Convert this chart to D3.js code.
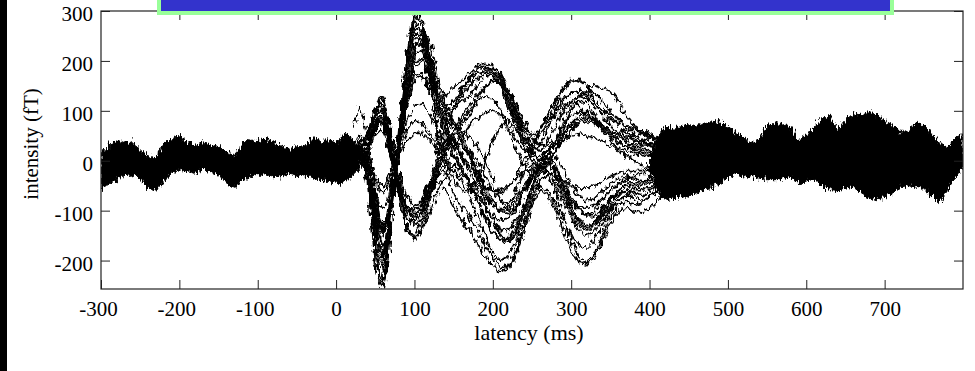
<!DOCTYPE html>
<html>
<head>
<meta charset="utf-8">
<script src="https://cdn.jsdelivr.net/npm/d3@7"></script>
<style>
    body { margin: 0; background: #fff; }
    svg text { font-family: "Liberation Serif", "Times New Roman", serif; fill: #000; }
</style>
</head>
<body>
<svg id="chart" width="975" height="371"></svg>
<script>
// dense baseline band before the evoked response (upper / lower edge, fT)
let preLatency = [-300,-290,-280,-270,-260,-250,-240,-230,-220,-210,-200,-190,-180,-170,-160,-150,-140,-130,-120,-110,-100,-90,-80,-70,-60,-50,-40,-30,-20,-10,0,10,20,30];
let preUpper = [15,30,40,35,38,22,10,6,35,42,50,38,30,38,32,28,18,8,35,42,40,44,38,30,22,28,30,48,40,42,35,55,45,25];
let preLower = [-58,-45,-38,-30,-28,-35,-55,-60,-40,-25,-18,-22,-25,-18,-22,-28,-45,-55,-40,-32,-30,-28,-32,-30,-25,-28,-30,-35,-38,-42,-45,-45,-30,-15];

// dense band after the evoked response
let postLatency = [400,410,420,430,440,450,460,470,480,490,500,510,520,530,540,550,560,570,580,590,600,610,620,630,640,650,660,670,680,690,700,710,720,730,740,750,760,770,780,790,800];
let postUpper = [10,45,68,65,68,72,70,75,78,82,65,55,48,35,45,70,75,72,68,40,50,68,85,92,62,80,95,90,98,92,80,72,55,62,75,72,55,35,28,45,55];
let postLower = [-20,-60,-78,-75,-72,-70,-65,-58,-52,-45,-35,-25,-30,-32,-35,-38,-38,-35,-32,-45,-40,-38,-50,-58,-60,-55,-52,-62,-75,-78,-72,-65,-52,-50,-52,-55,-70,-85,-58,-35,-15];

// single channels through the evoked part
let latency = [20,30,40,45,50,55,60,65,70,80,90,100,110,120,130,140,150,160,170,180,190,200,210,220,230,240,250,260,270,280,290,300,310,320,330,340,350,360,370,380,390,400,410,420];
let trace01 = [10,30,-20,-90,-170,-235,-250,-200,-120,40,200,290,275,200,130,100,110,140,165,185,190,180,150,110,70,40,20,30,60,100,140,160,165,150,120,100,95,85,70,55,40,45,50,40];
let trace02 = [0,15,-30,-100,-180,-225,-240,-190,-110,30,170,250,240,170,40,-20,-70,-90,-110,-140,-170,-195,-215,-210,-180,-130,-80,-40,-30,-60,-110,-160,-195,-205,-185,-150,-110,-90,-80,-90,-85,-70,-60,-50];
let trace03 = [20,40,10,-50,-120,-170,-185,-150,-80,50,160,230,235,180,120,80,60,70,90,120,145,160,150,120,80,50,30,20,40,70,100,120,130,125,110,90,70,60,50,45,35,30,35,30];
let trace04 = [-10,0,-20,-60,-110,-150,-170,-155,-110,0,120,220,265,240,170,110,70,40,10,-30,-80,-120,-150,-160,-140,-100,-60,-20,0,-20,-60,-100,-130,-140,-130,-110,-90,-70,-60,-55,-50,-45,-40,-35];
let trace05 = [30,50,30,-10,-70,-120,-140,-120,-60,40,140,200,205,160,110,90,100,120,130,150,170,185,175,140,100,60,40,50,70,90,110,115,110,95,80,70,60,50,45,50,55,50,45,40];
let trace06 = [10,20,40,70,100,125,120,90,40,-60,-130,-155,-140,-100,-60,-30,-20,-40,-70,-110,-150,-185,-200,-190,-160,-110,-70,-50,-60,-90,-120,-150,-170,-175,-160,-130,-100,-80,-70,-75,-80,-70,-60,-50];
let trace07 = [-10,0,20,50,85,100,95,70,20,-50,-110,-130,-115,-70,-20,20,50,60,50,30,0,-40,-80,-100,-90,-60,-30,-10,0,-20,-50,-80,-100,-110,-100,-80,-60,-50,-40,-45,-40,-30,-20,-15];
let trace08 = [20,30,50,75,100,110,100,60,10,-70,-140,-160,-135,-80,-10,50,100,130,150,165,175,170,150,110,70,30,0,-10,10,40,80,110,130,140,135,120,100,80,60,40,30,35,30,25];
let trace09 = [0,10,-10,-40,-70,-90,-95,-80,-40,20,80,110,115,90,60,40,30,30,20,0,-30,-60,-80,-85,-70,-50,-30,-20,-20,-40,-60,-80,-90,-95,-90,-75,-60,-45,-35,-30,-25,-20,-15,-10];
let trace10 = [60,110,50,0,-60,-110,-130,-110,-60,30,110,160,170,140,100,70,40,10,-20,-50,-70,-90,-100,-95,-80,-50,-20,0,20,30,40,60,80,90,85,70,55,40,30,20,15,10,5,0];
let trace11 = [-20,-10,10,40,70,80,70,40,0,-60,-100,-110,-90,-50,-40,-60,-90,-120,-140,-165,-190,-210,-222,-215,-185,-140,-90,-60,-70,-100,-140,-180,-205,-210,-195,-160,-125,-100,-95,-100,-105,-95,-80,-65];
let trace12 = [5,20,0,-70,-140,-200,-215,-175,-100,60,210,280,250,150,60,0,-40,-60,-60,-40,0,40,70,80,60,30,0,-20,-10,20,60,100,120,115,90,60,40,20,10,0,-10,-15,-10,-5];
let trace13 = [0,10,30,60,90,115,110,80,30,-60,-140,-150,-120,-60,0,40,60,80,100,120,130,125,100,60,20,-10,-30,-20,0,20,50,75,90,95,85,70,60,55,60,65,60,55,45,35];
let trace14 = [15,25,0,-50,-100,-140,-150,-120,-60,50,150,210,220,180,130,100,80,50,20,-20,-60,-90,-100,-90,-60,-20,20,60,90,120,145,165,160,150,150,145,140,120,90,70,60,50,45,40];
let trace15 = [-5,5,15,30,50,60,55,40,15,-30,-70,-90,-80,-50,-30,-20,-10,-20,-40,-60,-90,-120,-140,-140,-120,-90,-60,-40,-30,-50,-80,-110,-140,-150,-140,-120,-95,-80,-70,-60,-60,-55,-45,-35];
let trace16 = [10,20,0,-20,-40,-60,-65,-50,-20,20,60,80,75,50,30,20,30,50,70,85,95,100,90,70,40,20,10,10,20,30,40,50,55,50,45,40,30,25,20,15,10,10,5,5];
let trace17 = [0,10,-40,-120,-200,-245,-255,-210,-130,30,220,300,285,210,150,130,145,160,175,190,195,190,170,130,90,50,20,0,10,40,70,90,100,95,80,60,45,35,30,35,40,35,30,25];
let trace18 = [25,35,55,80,105,130,125,95,50,-20,-90,-120,-100,-40,20,70,110,140,160,175,185,180,165,140,110,80,50,30,30,40,55,70,80,85,80,70,60,50,40,30,25,20,15,10];
let trace19 = [5,15,-10,-60,-130,-180,-195,-160,-90,40,180,255,250,190,110,50,10,-20,-50,-80,-110,-140,-160,-165,-145,-100,-50,-10,10,-10,-50,-90,-120,-130,-125,-100,-80,-60,-50,-45,-40,-35,-30,-25];
let trace20 = [15,25,35,55,75,90,85,60,20,-40,-90,-105,-95,-60,-20,20,60,90,110,130,150,160,155,130,90,50,20,0,0,20,40,60,75,80,75,65,50,40,30,25,20,15,10,10];
let trace21 = [-5,5,-15,-50,-90,-130,-145,-125,-70,30,130,190,200,170,120,70,20,-20,-50,-70,-90,-110,-120,-115,-95,-65,-35,-15,-5,-15,-40,-70,-95,-110,-110,-95,-75,-60,-50,-50,-45,-40,-35,-30];
let trace22 = [0,10,25,45,70,85,80,55,15,-45,-100,-120,-105,-70,-30,0,10,-10,-40,-80,-115,-145,-160,-155,-130,-90,-50,-25,-20,-40,-70,-100,-125,-135,-125,-105,-80,-65,-60,-65,-70,-60,-50,-40];
let trace23 = [10,20,-5,-40,-90,-125,-135,-110,-60,30,120,170,175,140,90,50,30,10,-10,-30,-50,-60,-65,-55,-30,0,30,60,90,110,125,135,140,135,120,100,85,75,70,65,55,45,40,35];
let trace24 = [-15,-5,15,40,65,80,75,50,10,-50,-90,-100,-80,-40,0,30,40,30,10,-20,-50,-80,-100,-105,-90,-60,-30,0,20,10,-20,-50,-70,-80,-75,-60,-45,-35,-30,-35,-40,-35,-30,-25];
let trace25 = [0,10,-20,-70,-140,-190,-205,-170,-100,40,190,265,260,200,140,110,120,145,165,175,180,175,160,130,100,70,50,60,80,100,120,135,140,130,110,90,80,75,70,65,55,50,45,40];
let trace26 = [20,25,10,-10,-30,-45,-50,-40,-20,10,40,55,55,40,20,0,-20,-30,-40,-50,-55,-60,-60,-50,-35,-20,-10,-10,-20,-30,-40,-50,-55,-55,-50,-40,-30,-25,-20,-20,-20,-15,-10,-10];
let traces = [trace01, trace02, trace03, trace04, trace05, trace06, trace07, trace08, trace09,
              trace10, trace11, trace12, trace13, trace14, trace15, trace16, trace17, trace18,
              trace19, trace20, trace21, trace22, trace23, trace24, trace25, trace26];

let xTicks = [-300,-200,-100,0,100,200,300,400,500,600,700];
let yTicks = [-200,-100,0,100,200,300];

let plotLeft = 101, plotRight = 963, plotTop = 11, plotBottom = 289;

let svg = d3.select('#chart');
let x = d3.scaleLinear().domain([-300, 800]).range([plotLeft, plotRight]);
let y = d3.scaleLinear().domain([-257, 300]).range([plotBottom, plotTop]);

// sensor-noise look (rendering filters only, the values stay as typed)
let defs = svg.append('defs');
function noiseFilter(id, freq, scale) {
    let f = defs.append('filter').attr('id', id)
        .attr('x', '-2%').attr('y', '-10%').attr('width', '104%').attr('height', '120%');
    f.append('feTurbulence').attr('type', 'fractalNoise')
        .attr('baseFrequency', freq).attr('numOctaves', 2).attr('seed', 7).attr('result', 'noise');
    f.append('feDisplacementMap').attr('in', 'SourceGraphic').attr('in2', 'noise')
        .attr('scale', scale).attr('xChannelSelector', 'R').attr('yChannelSelector', 'G');
}
noiseFilter('jitter', '0.3 0.12', 9);
noiseFilter('bandJitter', '0.6 0.15', 11);

defs.append('clipPath').attr('id', 'plotclip')
    .append('rect').attr('x', plotLeft).attr('y', plotTop)
    .attr('width', plotRight - plotLeft).attr('height', plotBottom - plotTop);

// black strip on the left edge
svg.append('rect').attr('x', 0).attr('y', 0).attr('width', 7).attr('height', 371).attr('fill', '#000');

let plotArea = svg.append('g').attr('clip-path', 'url(#plotclip)');
let bands = plotArea.append('g').attr('filter', 'url(#bandJitter)');
let plot = plotArea.append('g').attr('filter', 'url(#jitter)');

function bandArea(times, upper, lower) {
    let rows = times.map((t, i) => ({ t: t, hi: upper[i], lo: lower[i] }));
    return d3.area().x(d => x(d.t)).y0(d => y(d.lo)).y1(d => y(d.hi))(rows);
}

bands.append('path').attr('d', bandArea(preLatency, preUpper, preLower))
    .attr('fill', '#000').attr('stroke', '#000').attr('stroke-width', 1);
bands.append('path').attr('d', bandArea(postLatency, postUpper, postLower))
    .attr('fill', '#000').attr('stroke', '#000').attr('stroke-width', 1);

let line = d3.line().x((d, i) => x(latency[i])).y(d => y(d));
plot.selectAll('path.trace')
    .data(traces)
    .enter()
    .append('path')
    .attr('class', 'trace')
    .attr('d', line)
    .attr('fill', 'none')
    .attr('stroke', '#000')
    .attr('stroke-width', 1.7);

// axes, MATLAB style: box with inward ticks on all sides
let axisColor = '#222';

let bottomAxis = svg.append('g').attr('transform', `translate(0,${plotBottom})`)
    .call(d3.axisBottom(x).tickValues(xTicks).tickFormat(d => String(d))
        .tickSizeInner(-9).tickSizeOuter(0).tickPadding(12));
bottomAxis.selectAll('text').attr('font-size', 21).attr('dx', d => d < 0 ? -3 : 0);

let leftAxis = svg.append('g').attr('transform', `translate(${plotLeft},0)`)
    .call(d3.axisLeft(y).tickValues(yTicks).tickFormat(d => String(d))
        .tickSizeInner(-9).tickSizeOuter(0).tickPadding(8));
leftAxis.selectAll('text').attr('font-size', 21).attr('dy', '0.45em');

svg.append('g').attr('transform', `translate(0,${plotTop})`)
    .call(d3.axisTop(x).tickValues(xTicks.slice(1)).tickSizeInner(-9).tickSizeOuter(0).tickFormat(''));
svg.append('g').attr('transform', `translate(${plotRight},0)`)
    .call(d3.axisRight(y).tickValues(yTicks).tickSizeInner(-9).tickSizeOuter(0).tickFormat(''));

svg.selectAll('.domain').remove();
svg.selectAll('.tick line').attr('stroke', axisColor);

svg.append('rect')
    .attr('x', plotLeft).attr('y', plotTop)
    .attr('width', plotRight - plotLeft).attr('height', plotBottom - plotTop)
    .attr('fill', 'none').attr('stroke', axisColor).attr('stroke-width', 1.2);

svg.append('text')
    .attr('x', (plotLeft + plotRight) / 2 - 3).attr('y', 340)
    .attr('text-anchor', 'middle').attr('font-size', 22)
    .text('latency (ms)');

svg.append('text')
    .attr('transform', 'translate(38,144) rotate(-90)')
    .attr('text-anchor', 'middle').attr('font-size', 21)
    .text('intensity (fT)');

// blue banner over the top of the frame
svg.append('rect')
    .attr('x', 159).attr('y', -5).attr('width', 733).attr('height', 18)
    .attr('fill', '#3333cc').attr('stroke', '#99ff99').attr('stroke-width', 4);
</script>
</body>
</html>
